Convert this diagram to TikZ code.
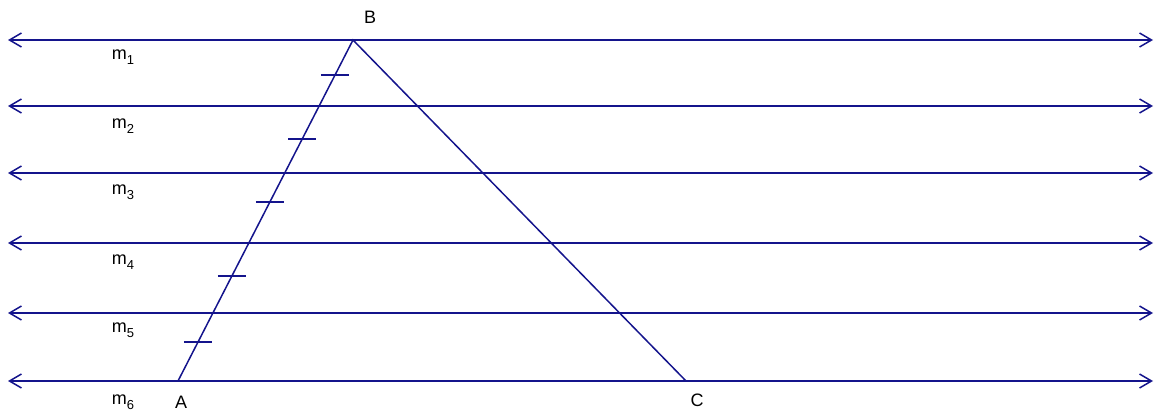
\documentclass[tikz,border=0pt]{standalone}
\usepackage{fontspec}
\setmainfont{Liberation Sans}
\usetikzlibrary{arrows.meta,calc}
\definecolor{linenavy}{RGB}{20,20,140}
\newcommand{\lowidx}[1]{\raisebox{-5pt}{\fontsize{13}{13}\selectfont #1}}

\begin{document}
\begin{tikzpicture}[
    x=1pt, y=-1pt,
    line/.style={draw=linenavy, line width=1.5pt},
    parline/.style={line, {Straight Barb[length=12pt,width=14pt]}-{Straight Barb[length=12pt,width=14pt]}},
    tickmark/.style={line},
    lbl/.style={font=\fontsize{18}{21}\selectfont, inner sep=0pt}
]
    \useasboundingbox (0,0) rectangle (1155,415);

    % triangle corners
    \coordinate (A) at (178,381);
    \coordinate (B) at (353,40);
    \coordinate (C) at (686,381);

    % parallel lines m1..m6
    \foreach \i/\y/\ly in {1/40/57, 2/106/126, 3/173/192, 4/243/262, 5/313/330, 6/381/402} {
        \coordinate (l\i) at (8,\y);
        \coordinate (r\i) at (1153,\y);
        \draw[parline] (l\i) -- (r\i);
        \node[lbl] (m\i) at (123,\ly) {m\lowidx{\i}};
    }

    % triangle
    \draw[line] (A) -- (B) -- (C);

    % equal segments on AB
    \foreach \t [count=\k] in {0.114,0.308,0.525,0.710,0.897} {
        \coordinate (t\k) at ($(A)!\t!(B)$);
        \draw[tickmark] ([xshift=-14pt]t\k) -- ([xshift=14pt]t\k);
    }

    \node[lbl] (labA) at (181,402) {A};
    \node[lbl] (labB) at (370,17) {B};
    \node[lbl] (labC) at (697,400) {C};
\end{tikzpicture}
\end{document}
